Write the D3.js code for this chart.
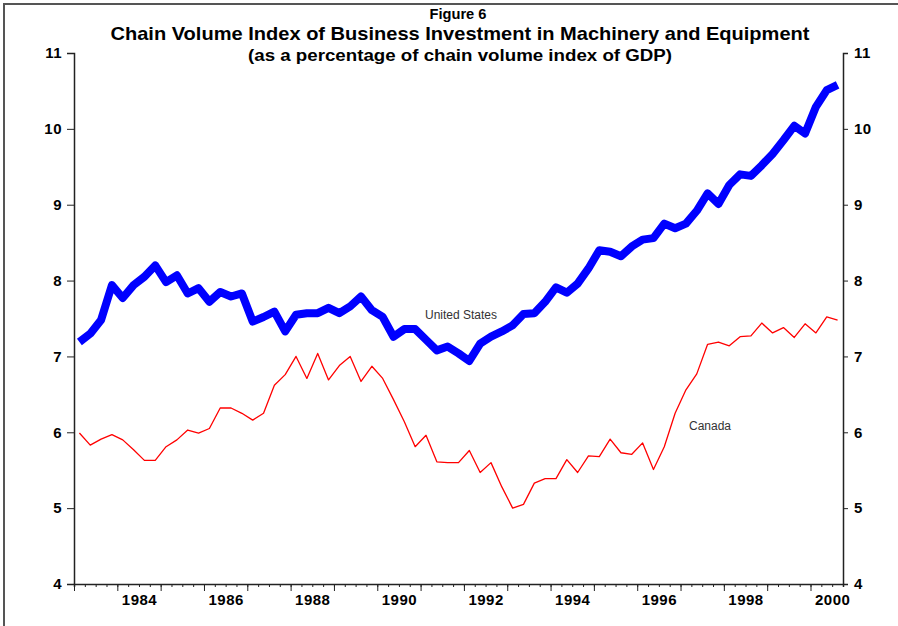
<!DOCTYPE html>
<html><head><meta charset="utf-8">
<script src="https://cdn.jsdelivr.net/npm/d3@7"></script>
<style>
body{margin:0;background:#fff;}
svg{display:block;font-family:Arial,"Liberation Sans",sans-serif;}
</style></head>
<body><svg id="chart" width="898" height="626"></svg>
<script>
// Quarterly data, 1983Q1 .. 2000Q3
const startYear = 1983;
const usValues = [7.19,7.30,7.48,7.94,7.77,7.94,8.05,8.20,7.98,8.07,7.83,7.90,7.72,7.85,7.79,7.83,
  7.46,7.52,7.59,7.33,7.55,7.57,7.57,7.64,7.57,7.66,7.79,7.61,7.52,7.26,7.36,7.36,
  7.22,7.08,7.13,7.04,6.94,7.17,7.26,7.33,7.41,7.56,7.57,7.72,7.91,7.84,7.96,8.16,
  8.40,8.38,8.32,8.45,8.54,8.56,8.75,8.69,8.75,8.92,9.15,9.01,9.26,9.40,9.38,9.52,
  9.67,9.85,10.04,9.94,10.29,10.51,10.58];
const canadaValues = [5.99,5.83,5.91,5.97,5.90,5.77,5.63,5.63,5.81,5.90,6.03,5.99,6.05,6.32,6.32,6.25,
  6.16,6.25,6.62,6.76,7.00,6.71,7.04,6.69,6.88,7.00,6.67,6.87,6.71,6.43,6.14,5.81,
  5.96,5.61,5.60,5.60,5.76,5.47,5.60,5.28,5.00,5.05,5.33,5.39,5.39,5.64,5.47,5.69,
  5.68,5.91,5.73,5.71,5.86,5.51,5.81,6.25,6.56,6.77,7.16,7.19,7.14,7.26,7.27,7.44,
  7.31,7.38,7.25,7.43,7.31,7.52,7.48];
const yTicks = [4,5,6,7,8,9,10,11];
const yearLabels = [1984,1986,1988,1990,1992,1994,1996,1998,2000];
const seriesNames = ["United States","Canada"];
const titleLines = ["Figure 6",
  "Chain Volume Index of Business Investment in Machinery and Equipment",
  "(as a percentage of chain volume index of GDP)"];

const svg = d3.select("#chart");
const x = d3.scaleLinear().domain([1983, 2000.75]).range([74, 843]);
const y = d3.scaleLinear().domain([4, 11]).range([584, 53]);
const qx = i => startYear + (i + 0.5) / 4;

// frame (left + top edges)
svg.append("path").attr("d","M4,626V4H898").attr("fill","none").attr("stroke","#555").attr("stroke-width",2);

// titles
const titleSpec = [
  {x:458, y:19, size:15, len:57},
  {x:460, y:40, size:19, len:699},
  {x:460, y:61, size:16, len:424}
];
titleSpec.forEach((s,k)=>{
  svg.append("text").attr("x",s.x).attr("y",s.y).attr("text-anchor","middle")
    .attr("font-weight","bold").attr("font-size",s.size)
    .attr("textLength",s.len).attr("lengthAdjust","spacingAndGlyphs")
    .text(titleLines[k]);
});

// axes
const quarters = d3.range(1983, 2000.76, 0.25);
const years = d3.range(1983, 2001, 1);
const gx = svg.append("g").attr("transform",`translate(0,${y(4)})`);
const gq = gx.append("g").call(d3.axisBottom(x).tickValues(quarters).tickSize(3).tickFormat(""));
const gy = gx.append("g").call(d3.axisBottom(x).tickValues(years).tickSize(7).tickFormat(""));
const gt = gx.append("g").call(d3.axisBottom(x).tickValues(yearLabels.map(v=>v+0.5)).tickSize(0).tickPadding(10)
  .tickFormat(v=>String(Math.floor(v))));
gy.select(".domain").remove();
gt.select(".domain").remove();
gq.select(".domain").attr("stroke","#222").attr("stroke-width",1.5);

const gl = svg.append("g").attr("transform",`translate(${x(1983)},0)`)
  .call(d3.axisLeft(y).tickValues(yTicks).tickSize(7).tickPadding(5).tickFormat(d3.format("d")));
const gr = svg.append("g").attr("transform",`translate(${x(2000.75)},0)`)
  .call(d3.axisRight(y).tickValues(yTicks).tickSize(5).tickPadding(6).tickFormat(d3.format("d")));
[gl,gr].forEach(g=>g.select(".domain").attr("stroke","#222").attr("stroke-width",1.5));
svg.selectAll(".tick line").attr("stroke","#222");
svg.selectAll(".tick text").attr("font-family","Arial, 'Liberation Sans', sans-serif")
  .attr("font-size",15).attr("font-weight","bold").attr("fill","#000").attr("letter-spacing","0.5px");

// lines
const line = d3.line().x((d,i)=>x(qx(i))).y(d=>y(d));
svg.append("path").datum(usValues).attr("d",line).attr("fill","none")
  .attr("stroke","#0000ff").attr("stroke-width",8).attr("stroke-linejoin","round").attr("stroke-linecap","butt");
svg.append("path").datum(canadaValues).attr("d",line).attr("fill","none")
  .attr("stroke","#ff0000").attr("stroke-width",1.3).attr("stroke-linejoin","round");

// series labels
svg.append("text").attr("x",461).attr("y",319).attr("text-anchor","middle")
  .attr("font-size",12).attr("fill","#333").text(seriesNames[0]);
svg.append("text").attr("x",710).attr("y",430).attr("text-anchor","middle")
  .attr("font-size",12).attr("fill","#333").text(seriesNames[1]);
</script></body></html>
